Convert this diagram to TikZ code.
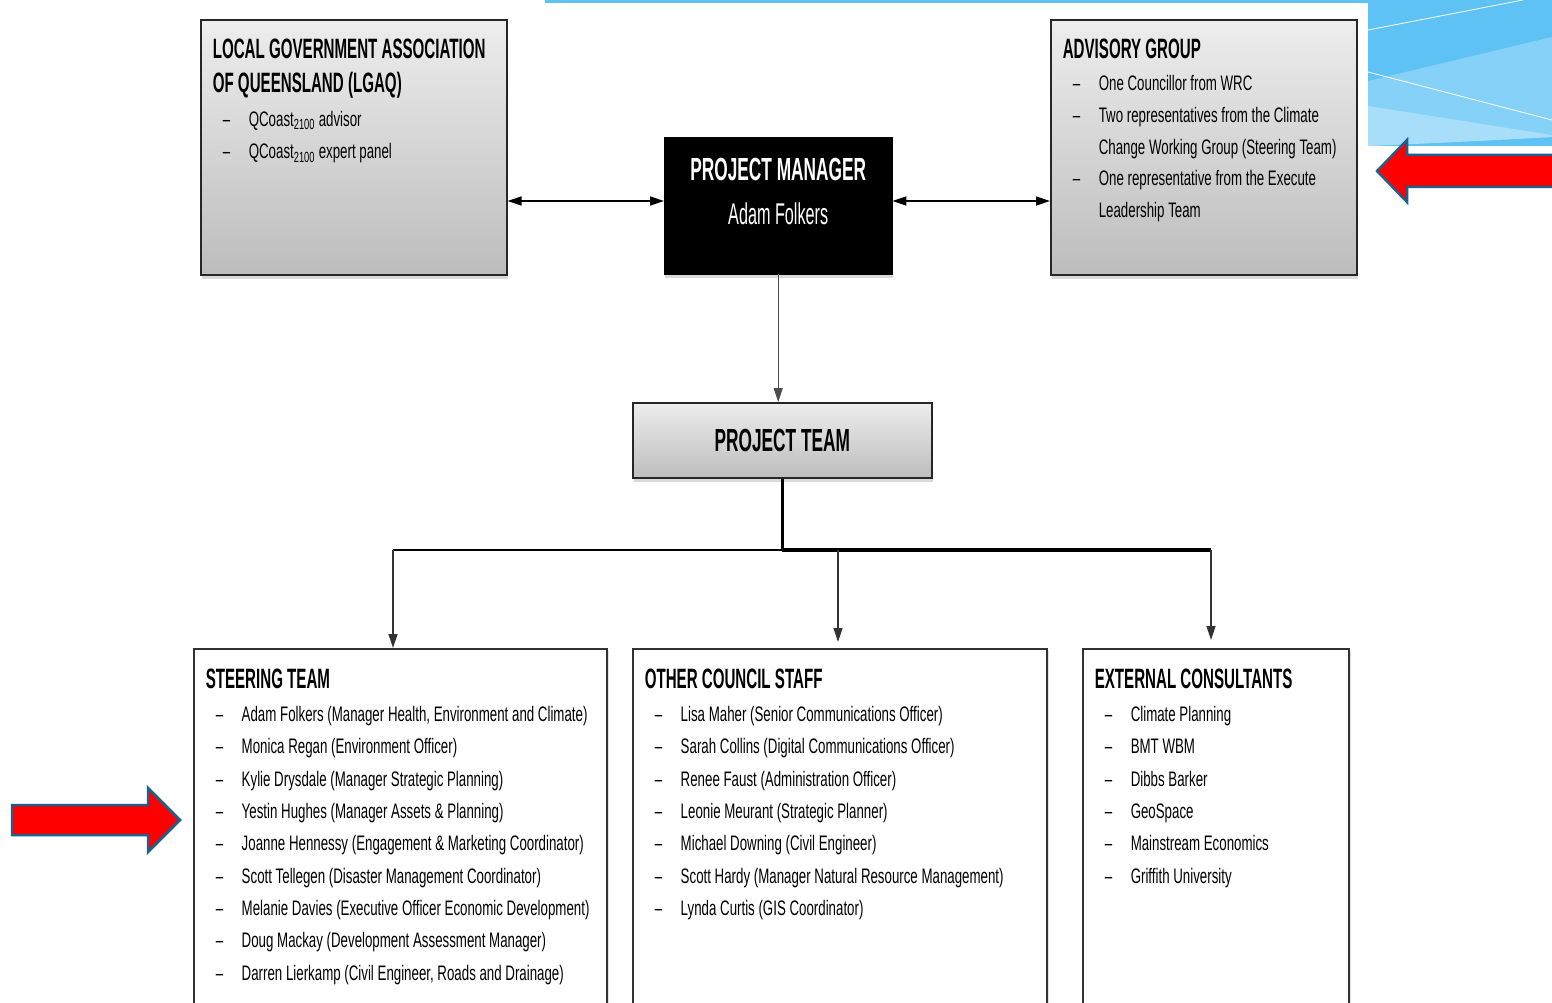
\documentclass[tikz,border=0pt]{standalone}
\usepackage{fontspec}
\setmainfont[FakeStretch=0.633]{Liberation Sans}
\newfontfamily\headfam[FakeStretch=0.54]{Liberation Sans}
\usetikzlibrary{arrows.meta, positioning, shadows, calc}

\definecolor{alertred}{HTML}{FF0000}
\definecolor{alertedge}{HTML}{1F5F8B}
\definecolor{skydark}{HTML}{5EC2F5}
\definecolor{skymid}{HTML}{86D1F8}
\definecolor{skylight}{HTML}{A9DEFA}

\newcommand{\headfont}{\headfam\bfseries\fontsize{28}{34}\selectfont}
\newcommand{\itemfont}{\normalfont\fontsize{21}{32.3}\selectfont}
\newcommand{\itm}[1]{\hspace*{10pt}\makebox[26pt][l]{--}#1}
\newcommand{\cont}[1]{\hspace*{36pt}#1}

\begin{document}
\begin{tikzpicture}[x=1pt, y=-1pt,
        >={Triangle[length=14pt,width=9pt]},
        shadebox/.style={draw=black!85, line width=1.6pt, top color=black!7, bottom color=black!26,
            drop shadow={shadow xshift=1pt, shadow yshift=-4pt, opacity=0.3}, inner ysep=0pt, inner xsep=12pt},
        listbox/.style={draw=black!80, line width=1.5pt, fill=white, inner ysep=0pt, inner xsep=12pt,
            drop shadow={shadow xshift=2pt, shadow yshift=-2pt, opacity=0.25}},
        link/.style={<->, line width=1.6pt},
        drop/.style={->, line width=1.3pt, black!80},
        bus/.style={line width=2.6pt},
        bigarrow/.style={fill=alertred, draw=alertedge, line width=2.5pt, line join=miter}
    ]
    \clip (0,0) rectangle (1552,1003);
    \useasboundingbox (0,0) rectangle (1552,1003);

    % background of the slide
    \fill[skydark] (545,0) rectangle (1368,3);
    \fill[skydark] (1368,0) rectangle (1552,146);
    \fill[skymid] (1368,81) -- (1552,37) -- (1552,137) -- (1368,146) -- cycle;
    \fill[skylight] (1368,106) -- (1552,135) -- (1552,137) .. controls (1480,141) .. (1368,146) -- cycle;
    \draw[white, line width=0.8pt] (1368,30) -- (1523,0);
    \draw[white, line width=0.8pt] (1368,72) -- (1552,120);

    % top row
    \node[shadebox, anchor=north west] (lgaq) at (200,19) {\parbox[c][255pt][t]{282pt}{\raggedright
        \vspace*{19pt}\headfont LOCAL GOVERNMENT ASSOCIATION\\OF QUEENSLAND (LGAQ)\par
        \vspace{2pt}\itemfont
        \itm{QCoast\textsubscript{2100} advisor}\\
        \itm{QCoast\textsubscript{2100} expert panel}}};
    \node[shadebox, anchor=north west] (advisory) at (1050,19) {\parbox[c][255pt][t]{282pt}{\raggedright
        \vspace*{19pt}\headfont ADVISORY GROUP\par
        \vspace{1pt}\itemfont\baselineskip=31.6pt
        \itm{One Councillor from WRC}\\
        \itm{Two representatives from the Climate}\\
        \cont{Change Working Group (Steering Team)}\\
        \itm{One representative from the Execute}\\
        \cont{Leadership Team}}};
    \node[fill=black, draw=black, anchor=north west, inner sep=0pt, text=white,
        drop shadow={shadow xshift=1pt, shadow yshift=-4pt, opacity=0.3}] (pm) at (664,137)
        {\parbox[c][137pt][t]{228pt}{\centering\vspace*{21pt}\headfam\bfseries\fontsize{32}{44}\selectfont PROJECT MANAGER\\
        \mdseries\fontsize{30}{44}\selectfont Adam Folkers}};
    \node[shadebox, anchor=north west, minimum width=299pt, minimum height=75pt] (team) at (632,402)
        {\headfam\bfseries\fontsize{32}{38}\selectfont PROJECT TEAM};

    % bottom row
    \node[listbox, anchor=north west] (steering) at (193,648) {\parbox[c][380pt][t]{389pt}{\raggedright
        \vspace*{20pt}\headfont STEERING TEAM\par
        \vspace{1pt}\itemfont
        \itm{Adam Folkers (Manager Health, Environment and Climate)}\\
        \itm{Monica Regan (Environment Officer)}\\
        \itm{Kylie Drysdale (Manager Strategic Planning)}\\
        \itm{Yestin Hughes (Manager Assets \& Planning)}\\
        \itm{Joanne Hennessy (Engagement \& Marketing Coordinator)}\\
        \itm{Scott Tellegen (Disaster Management Coordinator)}\\
        \itm{Melanie Davies (Executive Officer Economic Development)}\\
        \itm{Doug Mackay (Development Assessment Manager)}\\
        \itm{Darren Lierkamp (Civil Engineer, Roads and Drainage)}}};
    \node[listbox, anchor=north west] (staff) at (632,648) {\parbox[c][380pt][t]{390pt}{\raggedright
        \vspace*{20pt}\headfont OTHER COUNCIL STAFF\par
        \vspace{1pt}\itemfont
        \itm{Lisa Maher (Senior Communications Officer)}\\
        \itm{Sarah Collins (Digital Communications Officer)}\\
        \itm{Renee Faust (Administration Officer)}\\
        \itm{Leonie Meurant (Strategic Planner)}\\
        \itm{Michael Downing (Civil Engineer)}\\
        \itm{Scott Hardy (Manager Natural Resource Management)}\\
        \itm{Lynda Curtis (GIS Coordinator)}}};
    \node[listbox, anchor=north west] (consult) at (1082,648) {\parbox[c][380pt][t]{242pt}{\raggedright
        \vspace*{20pt}\headfont EXTERNAL CONSULTANTS\par
        \vspace{1pt}\itemfont
        \itm{Climate Planning}\\
        \itm{BMT WBM}\\
        \itm{Dibbs Barker}\\
        \itm{GeoSpace}\\
        \itm{Mainstream Economics}\\
        \itm{Griffith University}}};

    % connectors
    \coordinate (level) at (778,201);
    \coordinate (split) at (team.south |- 0,550);
    \draw[link] (lgaq.east |- level) -- (pm.west |- level);
    \draw[link] (advisory.west |- level) -- (pm.east |- level);
    \draw[drop, line width=1pt, black!70] (pm.south) -- (pm.south |- team.north);
    \draw[bus] (team.south) -- (split);
    \draw[bus, line width=2pt] (split) -- (split -| 393,0);
    \draw[bus, line width=3.4pt] (split) -- (split -| 1211,0);
    \draw[drop] (split -| 393,0) -- (steering.north -| 393,0);
    \draw[drop, shorten >=6pt] (split -| 838,0) -- (staff.north -| 838,0);
    \draw[drop, shorten >=8pt] (split -| 1211,0) -- (consult.north -| 1211,0);

    % pointers
    \draw[bigarrow] (12,805) -- (148,805) -- (148,788) -- (180,820) -- (148,852) -- (148,835) -- (12,835) -- cycle;
    \draw[bigarrow] (1560,155) -- (1407,155) -- (1407,140) -- (1377,171) -- (1407,202) -- (1407,187) -- (1560,187) -- cycle;
\end{tikzpicture}
\end{document}
